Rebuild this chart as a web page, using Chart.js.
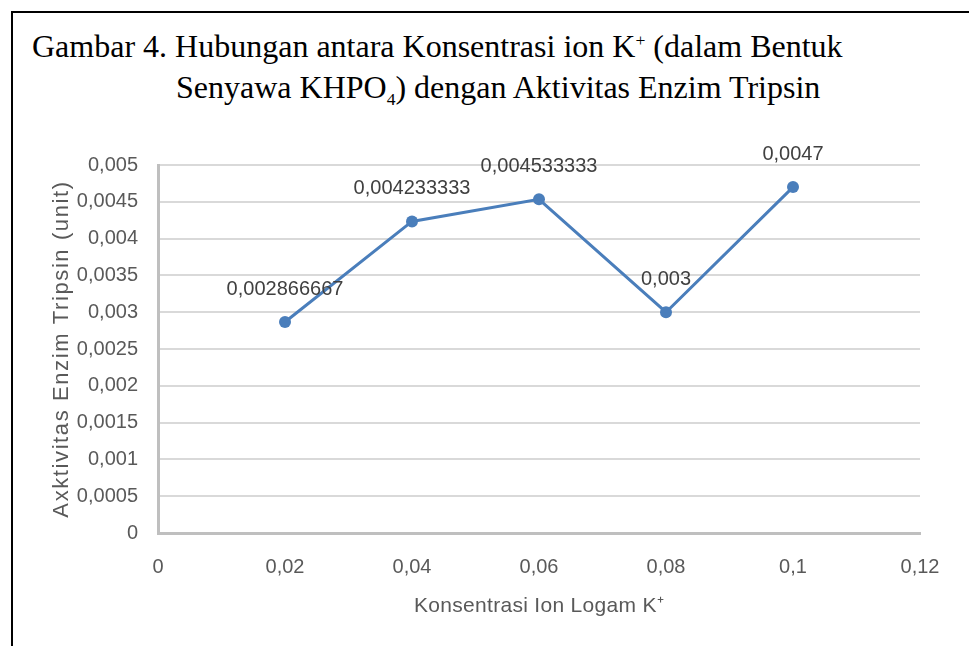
<!DOCTYPE html>
<html><head><meta charset="utf-8">
<script src="https://cdn.jsdelivr.net/npm/chart.js@4/dist/chart.umd.min.js"></script>
<style>
html,body{margin:0;padding:0;background:#fff;width:969px;height:646px;overflow:hidden;}
#frame{position:absolute;left:11px;top:11px;width:960px;height:640px;border-left:2px solid #000;border-top:2px solid #000;}
.t{position:absolute;font-family:"Liberation Serif","Times New Roman",serif;font-size:32px;color:#000;white-space:nowrap;line-height:1;}
.t sup{font-size:0.55em;vertical-align:0.6em;line-height:0;}
.t sub{font-size:0.55em;vertical-align:-0.38em;line-height:0;}
#c{position:absolute;left:0;top:0;}
</style></head><body>
<div id="frame"></div>
<div class="t" style="left:32px;top:30px">Gambar 4. Hubungan antara Konsentrasi ion K<sup>+</sup> (dalam Bentuk</div>
<div class="t" style="left:176px;top:71px">Senyawa KHPO<sub>4</sub>) dengan Aktivitas Enzim Tripsin</div>
<canvas id="c" width="969" height="646"></canvas>
<script>
const xValues = [0.02, 0.04, 0.06, 0.08, 0.1];
const yValues = [0.002866667, 0.004233333, 0.004533333, 0.003, 0.0047];
const pointLabels = ["0,002866667", "0,004233333", "0,004533333", "0,003", "0,0047"];
const xAxisTitle = "Konsentrasi Ion Logam K\u207A";
const yAxisTitle = "Axktivitas Enzim Tripsin (unit)";

const FONT = '"Liberation Sans", Arial, sans-serif';
const fmt = v => String(Number(Number(v).toFixed(6))).replace('.', ',');

const labelPlugin = {
  id: 'pointLabels',
  afterLayout(chart) {
    const spacing = {x: '0.3px', y: '1.6px'};
    ['x', 'y'].forEach(id => {
      const s = chart.scales[id];
      if (s && !s._spaced) {
        const orig = s.drawTitle;
        s.drawTitle = function () {
          const c = this.ctx;
          const prev = c.letterSpacing;
          c.letterSpacing = spacing[id];
          orig.apply(this, arguments);
          c.letterSpacing = prev || '0px';
        };
        s._spaced = true;
      }
    });
  },
  afterDatasetsDraw(chart) {
    const ctx = chart.ctx;
    const meta = chart.getDatasetMeta(0);
    ctx.save();
    ctx.font = '20px ' + FONT;
    ctx.fillStyle = '#404040';
    ctx.textAlign = 'center';
    ctx.textBaseline = 'middle';
    meta.data.forEach((p, i) => ctx.fillText(pointLabels[i], p.x, p.y - 33));
    ctx.restore();
  }
};

new Chart(document.getElementById('c'), {
  type: 'line',
  data: {
    datasets: [{
      data: xValues.map((x, i) => ({x: x, y: yValues[i]})),
      borderColor: '#4a7ebb',
      backgroundColor: '#4a7ebb',
      borderWidth: 3,
      pointRadius: 6,
      pointBorderWidth: 0,
      pointBackgroundColor: '#4a7ebb',
      tension: 0,
      fill: false
    }]
  },
  options: {
    responsive: false,
    animation: false,
    layout: {padding: {left: 0, top: 165, right: 49, bottom: 0}},
    plugins: {legend: {display: false}, tooltip: {enabled: false}, title: {display: false}},
    scales: {
      x: {
        type: 'linear', min: 0, max: 0.12,
        afterFit: s => { s.height = 113; },
        ticks: {stepSize: 0.02, callback: v => fmt(v), color: '#595959', font: {family: FONT, size: 20}, padding: 22, maxRotation: 0},
        grid: {display: true, color: 'rgba(0,0,0,0)', drawTicks: false},
        border: {display: true, color: '#bfbfbf', width: 3},
        title: {display: true, text: xAxisTitle, color: '#595959', font: {family: FONT, size: 21}, padding: {top: 4, bottom: 27}}
      },
      y: {
        min: 0, max: 0.005,
        afterFit: s => { s.width = 158; },
        ticks: {stepSize: 0.0005, callback: v => fmt(v), color: '#595959', font: {family: FONT, size: 20}, padding: 20},
        grid: {color: '#d9d9d9', lineWidth: 2, drawTicks: false},
        border: {display: true, color: '#bfbfbf', width: 3},
        title: {display: true, text: yAxisTitle, color: '#595959', font: {family: FONT, size: 22}, padding: {top: 49, bottom: 0}}
      }
    }
  },
  plugins: [labelPlugin]
});
</script>
</body></html>
